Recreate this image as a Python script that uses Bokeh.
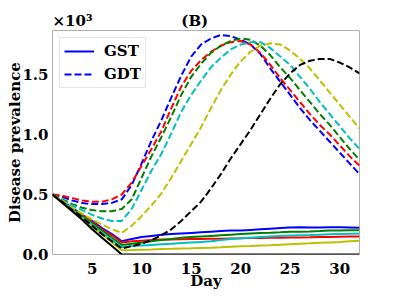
from bokeh.plotting import figure
from bokeh.models import Range1d, FixedTicker, PrintfTickFormatter
from bokeh.embed import file_html
from bokeh.resources import INLINE

days = list(range(1, 33))

# Disease prevalence in thousands (x10^3)
gst_blue = [0.50, 0.44, 0.39, 0.33, 0.28, 0.22, 0.17, 0.11,
            0.13, 0.145, 0.155, 0.165, 0.17, 0.175, 0.18, 0.185, 0.19, 0.195, 0.20, 0.20,
            0.205, 0.21, 0.215, 0.22, 0.225, 0.228, 0.226, 0.225, 0.228, 0.228, 0.225, 0.222]
gst_red = [0.50, 0.44, 0.38, 0.33, 0.27, 0.21, 0.16, 0.10,
           0.11, 0.115, 0.12, 0.125, 0.126, 0.128, 0.129, 0.13, 0.131, 0.132, 0.134, 0.135,
           0.137, 0.138, 0.139, 0.14, 0.141, 0.142, 0.143, 0.145, 0.146, 0.148, 0.149, 0.15]
gst_green = [0.50, 0.44, 0.38, 0.32, 0.26, 0.20, 0.14, 0.08,
             0.09, 0.10, 0.11, 0.12, 0.13, 0.14, 0.145, 0.15, 0.155, 0.16, 0.165, 0.17,
             0.175, 0.18, 0.182, 0.185, 0.19, 0.19, 0.192, 0.195, 0.20, 0.20, 0.202, 0.203]
gst_cyan = [0.50, 0.44, 0.37, 0.31, 0.25, 0.18, 0.12, 0.06,
            0.07, 0.075, 0.08, 0.085, 0.09, 0.095, 0.10, 0.105, 0.11, 0.12, 0.13, 0.135,
            0.14, 0.145, 0.15, 0.155, 0.158, 0.16, 0.162, 0.165, 0.168, 0.17, 0.172, 0.175]
gst_yellow = [0.50, 0.43, 0.36, 0.30, 0.23, 0.17, 0.10, 0.035,
              0.037, 0.04, 0.042, 0.045, 0.047, 0.05, 0.052, 0.055, 0.057, 0.06, 0.064, 0.068,
              0.071, 0.075, 0.078, 0.082, 0.086, 0.09, 0.093, 0.097, 0.101, 0.105, 0.11, 0.115]
gst_black = [0.50, 0.43, 0.36, 0.29, 0.21, 0.14, 0.07, 0.0,
             0.0, 0.0, 0.0, 0.0, 0.0, 0.0, 0.0, 0.0, 0.0, 0.0, 0.0, 0.0,
             0.0, 0.0, 0.0, 0.0, 0.0, 0.0, 0.0, 0.0, 0.0, 0.0, 0.0, 0.0]

gdt_blue = [0.50, 0.48, 0.45, 0.43, 0.42, 0.42, 0.43, 0.46,
            0.58, 0.76, 0.95, 1.12, 1.31, 1.49, 1.65, 1.75, 1.80, 1.83, 1.82, 1.79,
            1.75, 1.67, 1.55, 1.44, 1.33, 1.22, 1.12, 1.03, 0.94, 0.85, 0.76, 0.67]
gdt_red = [0.50, 0.49, 0.47, 0.45, 0.44, 0.44, 0.46, 0.50,
           0.60, 0.74, 0.88, 1.03, 1.22, 1.40, 1.53, 1.62, 1.69, 1.74, 1.77, 1.78,
           1.75, 1.68, 1.58, 1.47, 1.37, 1.27, 1.17, 1.08, 1.00, 0.91, 0.82, 0.74]
gdt_green = [0.50, 0.46, 0.42, 0.39, 0.37, 0.36, 0.36, 0.38,
             0.46, 0.64, 0.82, 0.98, 1.15, 1.33, 1.48, 1.59, 1.68, 1.74, 1.78, 1.80,
             1.79, 1.74, 1.66, 1.56, 1.47, 1.37, 1.27, 1.17, 1.08, 0.98, 0.88, 0.79]
gdt_cyan = [0.50, 0.45, 0.41, 0.37, 0.33, 0.30, 0.28, 0.28,
            0.38, 0.54, 0.70, 0.84, 1.01, 1.19, 1.33, 1.45, 1.56, 1.64, 1.71, 1.75,
            1.77, 1.77, 1.72, 1.65, 1.58, 1.48, 1.38, 1.27, 1.17, 1.07, 0.97, 0.88]
gdt_yellow = [0.50, 0.45, 0.39, 0.34, 0.29, 0.25, 0.21, 0.18,
              0.24, 0.32, 0.41, 0.51, 0.64, 0.78, 0.92, 1.06, 1.22, 1.37, 1.50, 1.61,
              1.69, 1.74, 1.76, 1.75, 1.70, 1.63, 1.55, 1.45, 1.35, 1.25, 1.15, 1.05]
gdt_black = [0.50, 0.44, 0.37, 0.31, 0.24, 0.17, 0.11, 0.05,
             0.07, 0.09, 0.12, 0.16, 0.21, 0.28, 0.36, 0.44, 0.55, 0.67, 0.80, 0.92,
             1.04, 1.17, 1.30, 1.42, 1.51, 1.58, 1.615, 1.63, 1.63, 1.60, 1.56, 1.51]

colors = ["#0000ff", "#ff0000", "#008000", "#00bfbf", "#bfbf00", "#000000"]
gst_series = [gst_blue, gst_red, gst_green, gst_cyan, gst_yellow, gst_black]
gdt_series = [gdt_blue, gdt_red, gdt_green, gdt_cyan, gdt_yellow, gdt_black]

x_ticks = [5, 10, 15, 20, 25, 30]
y_ticks = [0.0, 0.5, 1.0, 1.5]

scale_text = "×10³"
panel_text = "(B)"

FONT = "DejaVu Serif"
FS = "15px"

p = figure(width=399, height=300, output_backend="svg", toolbar_location=None,
           x_range=Range1d(1, 32), y_range=Range1d(0, 1.867),
           min_border_left=52, min_border_right=40, min_border_top=30, min_border_bottom=46)

p.title.text = scale_text + "\u00a0" * 17 + panel_text
p.title.align = "left"
p.title.text_font = FONT
p.title.text_font_style = "bold"
p.title.text_font_size = FS
p.title.text_color = "black"
p.title.standoff = 1

for i, (c, ys) in enumerate(zip(colors, gst_series)):
    kw = {"legend_label": "GST"} if i == 0 else {}
    p.line(days, ys, line_color=c, line_width=2, **kw)
for i, (c, ys) in enumerate(zip(colors, gdt_series)):
    kw = {"legend_label": "GDT"} if i == 0 else {}
    p.line(days, ys, line_color=c, line_width=2, line_dash="7 3", **kw)

p.xgrid.visible = False
p.ygrid.visible = False
p.outline_line_color = "#b0b0b0"
p.outline_line_width = 1

for ax in (p.xaxis, p.yaxis):
    ax.axis_line_color = None
    ax.major_tick_line_color = None
    ax.minor_tick_line_color = None
    ax.major_tick_out = 0
    ax.major_tick_in = 0
    ax.minor_tick_out = 0
    ax.minor_tick_in = 0
    ax.major_label_text_font = FONT
    ax.major_label_text_font_style = "bold"
    ax.major_label_text_font_size = FS
    ax.major_label_text_color = "black"
    ax.axis_label_text_font = FONT
    ax.axis_label_text_font_style = "bold"
    ax.axis_label_text_font_size = FS
    ax.axis_label_text_color = "black"

p.xaxis.ticker = FixedTicker(ticks=x_ticks)
p.yaxis.ticker = FixedTicker(ticks=y_ticks)
p.yaxis.formatter = PrintfTickFormatter(format="%.1f")
p.xaxis.axis_label = "Day"
p.yaxis.axis_label = "Disease prevalence"
p.xaxis.major_label_standoff = 8
p.xaxis.axis_label_standoff = -5
p.yaxis.major_label_standoff = 4
p.yaxis.axis_label_standoff = -5

leg = p.legend[0]
leg.location = "top_left"
leg.margin = 7
leg.padding = 4
leg.spacing = 5
leg.label_height = 18
leg.glyph_height = 18
leg.glyph_width = 30
leg.label_standoff = 10
leg.label_text_font = FONT
leg.label_text_font_style = "bold"
leg.label_text_font_size = FS
leg.label_text_color = "black"
leg.border_line_color = "#cccccc"
leg.border_line_width = 1
leg.background_fill_alpha = 0.8

open("out.html", "w").write(file_html(p, INLINE))
